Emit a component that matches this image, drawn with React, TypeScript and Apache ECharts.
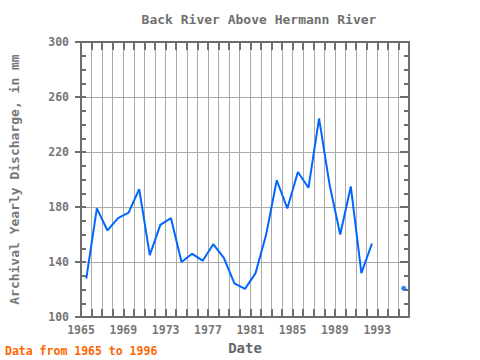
import React, { useEffect, useRef } from "react";
import * as echarts from "echarts";

const years = [1965, 1966, 1967, 1968, 1969, 1970, 1971, 1972, 1973, 1974, 1975, 1976, 1977, 1978, 1979, 1980, 1981, 1982, 1983, 1984, 1985, 1986, 1987, 1988, 1989, 1990, 1991, 1992, 1993, 1994, 1995];
const discharge: (number | null)[] = [128, 179, 163, 172, 176, 193, 145, 167, 172, 140, 146, 141, 153, 143, 124.5, 120.5, 132, 160, 199.5, 179, 205.5, 194, 244.5, 196, 160, 195, 132, 153.5, null, null, 121];
const title = "Back River Above Hermann River";
const yTitle = "Archival Yearly Discharge, in mm";
const xTitle = "Date";
const footnote = "Data from 1965 to 1996";

const FONT = "'DejaVu Sans Mono', monospace";
const AXIS = "#6e6e6e";

export default function App() {
  const ref = useRef<HTMLDivElement>(null);
  useEffect(() => {
    if (!ref.current) return;
    const chart = echarts.init(ref.current, undefined, { renderer: "svg" });
    const lineData = years.map((y, i) => [y + 0.5, discharge[i]]);
    const isolated = years
      .map((y, i) => {
        const v = discharge[i];
        const prev = i > 0 ? discharge[i - 1] : null;
        const next = i < discharge.length - 1 ? discharge[i + 1] : null;
        return v != null && prev == null && next == null ? [y + 0.5, v] : null;
      })
      .filter((d) => d != null);
    const xCommon = {
      type: "value" as const,
      min: 1965,
      max: 1996,
      interval: 1,
    };
    const yCommon = {
      type: "value" as const,
      min: 100,
      max: 300,
      interval: 40,
    };
    chart.setOption({
      animation: false,
      title: {
        text: title,
        left: 254,
        top: 8,
        textAlign: "center",
        textStyle: { fontFamily: FONT, fontSize: 13, fontWeight: "bold", color: "#707070" },
      },
      grid: { left: 79, right: 71, top: 42, bottom: 38 },
      xAxis: [
        {
          ...xCommon,
          position: "bottom",
          name: xTitle,
          nameLocation: "middle",
          nameGap: 20,
          nameTextStyle: { fontFamily: FONT, fontSize: 14, fontWeight: "bold", color: "#666" },
          axisLine: { show: true, onZero: false, lineStyle: { color: AXIS, width: 2 } },
          axisTick: { show: true, inside: true, length: 8, lineStyle: { color: AXIS, width: 2 } },
          axisLabel: {
            fontFamily: FONT,
            fontSize: 11.5,
            fontWeight: "bold",
            color: "#777",
            margin: 7,
            formatter: (v: number) => ((v - 1965) % 4 === 0 ? String(v) : ""),
          },
          splitLine: { show: true, lineStyle: { color: "#aaaaaa", width: 1 } },
        },
        {
          ...xCommon,
          position: "top",
          axisLine: { show: true, onZero: false, lineStyle: { color: AXIS, width: 2 } },
          axisTick: { show: true, inside: true, length: 8, lineStyle: { color: AXIS, width: 2 } },
          axisLabel: { show: false },
          splitLine: { show: false },
        },
      ],
      yAxis: [
        {
          ...yCommon,
          position: "left",
          name: yTitle,
          nameLocation: "middle",
          nameGap: 60,
          nameRotate: 90,
          nameTextStyle: { fontFamily: FONT, fontSize: 13, fontWeight: "bold", color: "#777" },
          axisLine: { show: true, onZero: false, lineStyle: { color: AXIS, width: 2 } },
          axisTick: { show: true, inside: true, length: 5, lineStyle: { color: AXIS, width: 2 } },
          minorTick: { show: true, splitNumber: 4, length: 5, lineStyle: { color: AXIS, width: 2 } },
          axisLabel: { fontFamily: FONT, fontSize: 11.5, fontWeight: "bold", color: "#777", margin: 12 },
          splitLine: { show: true, lineStyle: { color: "#aaaaaa", width: 1 } },
        },
        {
          ...yCommon,
          position: "right",
          axisLine: { show: true, onZero: false, lineStyle: { color: AXIS, width: 2 } },
          axisTick: { show: true, inside: true, length: 9, lineStyle: { color: AXIS, width: 2 } },
          minorTick: { show: true, splitNumber: 4, length: 5, lineStyle: { color: AXIS, width: 2 } },
          axisLabel: { show: false },
          splitLine: { show: false },
        },
        {
          ...yCommon,
          position: "left",
          axisLine: { show: false },
          axisTick: { show: true, inside: false, length: 6, lineStyle: { color: AXIS, width: 2 } },
          axisLabel: { show: false },
          splitLine: { show: false },
        },
      ],
      graphic: [
        {
          type: "text",
          left: 5,
          top: 345,
          style: { text: footnote, fontFamily: FONT, fontSize: 11.5, fontWeight: "bold", fill: "#ff6600" },
        },
      ],
      series: [
        {
          type: "line",
          data: lineData,
          showSymbol: false,
          connectNulls: false,
          lineStyle: { color: "#0066ff", width: 2 },
          itemStyle: { color: "#0066ff" },
        },
        {
          type: "scatter",
          data: isolated,
          symbolSize: 5,
          itemStyle: { color: "#0066ff" },
        },
      ],
    });
    return () => chart.dispose();
  }, []);
  return <div ref={ref} style={{ width: 480, height: 360, position: "absolute", left: 0, top: 0 }} />;
}
